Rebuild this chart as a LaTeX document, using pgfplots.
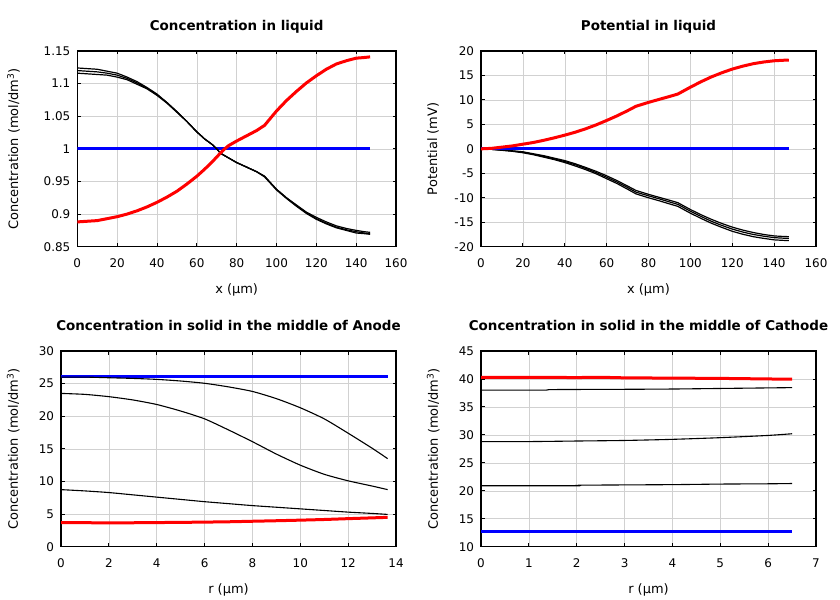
\documentclass[border=0pt]{standalone}
\usepackage{pgfplots}
\pgfplotsset{compat=1.18}
\usepackage{fontspec}
\setmainfont{DejaVu Sans}
\pgfplotsset{
  myax/.style={
    scale only axis,
    axis line style={line width=1.2bp},
    grid=major,
    major grid style={line width=0.5bp, draw=black!18},
    tick align=inside,
    major tick length=3.5bp,
    tick style={black, line width=0.9bp},
    ticklabel style={font=\fontsize{12}{14}\selectfont},
    /pgf/number format/assume math mode=true,
    xticklabel style={anchor=base, yshift=-21bp},
    yticklabel style={anchor=east, xshift=-3.5bp},
    label style={font=\fontsize{13}{15}\selectfont},
    xlabel style={at={(axis description cs:0.5,0)}, anchor=base, yshift=-46.5bp},
    title style={font=\bfseries\fontsize{13.5}{15}\selectfont, at={(axis description cs:0.5,1)}, anchor=base, yshift=14.5bp},
  },
  red line/.style={color={rgb,255:red,255;green,0;blue,0}, line width=3bp},
  blue line/.style={color={rgb,255:red,0;green,0;blue,255}, line width=3bp},
  blk/.style={black, line width=1.2bp},
  blk2/.style={black, line width=1.1bp, smooth, tension=0.4},
}
\begin{document}
\begin{tikzpicture}
\useasboundingbox (0,0) rectangle (840bp,600bp);
% ---------------- Plot 1 ----------------
\begin{axis}[myax, at={(77.3bp,353.3bp)}, anchor=south west,
  width=318.7bp, height=195.7bp,
  xmin=0, xmax=160, ymin=0.85, ymax=1.15,
  xtick={0,20,...,160}, ytick={0.85,0.9,0.95,1,1.05,1.1,1.15},
  yticklabel style={/pgf/number format/fixed, /pgf/number format/precision=2},
  title={Concentration in liquid},
  xlabel={x (µm)}, ylabel={Concentration (mol/dm\textsuperscript{3})},
  ylabel style={at={(axis description cs:-0.2,0.5)}, anchor=center}]
\addplot[blue line] coordinates {(0,1) (147,1)};
\addplot[blk] coordinates {(0,1.124) (5,1.123) (10,1.122) (15,1.119) (20,1.116) (25,1.110) (30,1.103) (35,1.094) (40,1.084) (45,1.071) (50,1.057) (55,1.042) (60,1.026) (64,1.015) (68,1.006) (70,1.000) (72,0.993) (76,0.986) (80,0.979) (85,0.972) (90,0.965) (94,0.958) (97,0.948) (100,0.938) (105,0.925) (110,0.914) (115,0.903) (120,0.895) (125,0.888) (130,0.882) (135,0.878) (140,0.875) (144,0.873) (147,0.872)};
\addplot[blk] coordinates {(0,1.120) (5,1.119) (10,1.118) (15,1.116) (20,1.113) (25,1.108) (30,1.101) (35,1.093) (40,1.083) (45,1.071) (50,1.057) (55,1.042) (60,1.026) (64,1.015) (68,1.006) (70,1.000) (72,0.993) (76,0.986) (80,0.979) (85,0.972) (90,0.965) (94,0.958) (97,0.948) (100,0.938) (105,0.925) (110,0.913) (115,0.902) (120,0.893) (125,0.886) (130,0.880) (135,0.876) (140,0.873) (144,0.871) (147,0.870)};
\addplot[blk] coordinates {(0,1.116) (5,1.115) (10,1.114) (15,1.113) (20,1.110) (25,1.106) (30,1.099) (35,1.092) (40,1.082) (45,1.070) (50,1.056) (55,1.042) (60,1.026) (64,1.015) (68,1.006) (70,1.000) (72,0.993) (76,0.986) (80,0.979) (85,0.972) (90,0.965) (94,0.957) (97,0.947) (100,0.937) (105,0.924) (110,0.912) (115,0.901) (120,0.892) (125,0.885) (130,0.879) (135,0.875) (140,0.871) (144,0.870) (147,0.869)};
\addplot[red line] coordinates {(0,0.888) (5,0.889) (10,0.890) (15,0.893) (20,0.896) (25,0.900) (30,0.905) (35,0.911) (40,0.918) (45,0.926) (50,0.935) (55,0.946) (60,0.958) (64,0.969) (68,0.981) (72,0.994) (74,1.000) (76,1.005) (80,1.012) (85,1.020) (90,1.028) (94,1.036) (97,1.047) (100,1.058) (105,1.074) (110,1.088) (115,1.101) (120,1.112) (125,1.122) (130,1.130) (135,1.135) (140,1.139) (144,1.140) (147,1.141)};
\end{axis}
% ---------------- Plot 2 ----------------
\begin{axis}[myax, at={(481bp,353.3bp)}, anchor=south west,
  width=335bp, height=195.7bp,
  xmin=0, xmax=160, ymin=-20, ymax=20,
  xtick={0,20,...,160}, ytick={-20,-15,...,20},
  title={Potential in liquid},
  xlabel={x (µm)}, ylabel={Potential (mV)},
  ylabel style={at={(axis description cs:-0.1428,0.5)}, anchor=center}]
\addplot[blk] coordinates {(0,0) (5,-0.1) (10,-0.2) (15,-0.4) (20,-0.6) (25,-1.0) (30,-1.4) (35,-1.9) (40,-2.4) (45,-3.05) (50,-3.8) (55,-4.6) (60,-5.5) (65,-6.5) (70,-7.6) (74,-8.5) (80,-9.3) (85,-9.9) (90,-10.5) (94,-11.0) (97,-11.7) (100,-12.4) (105,-13.45) (110,-14.4) (115,-15.25) (120,-16.0) (125,-16.6) (130,-17.1) (135,-17.5) (140,-17.8) (144,-17.9) (147,-17.95)};
\addplot[blk] coordinates {(0,0) (5,-0.1) (10,-0.25) (15,-0.45) (20,-0.7) (25,-1.1) (30,-1.55) (35,-2.05) (40,-2.6) (45,-3.25) (50,-4.0) (55,-4.85) (60,-5.8) (65,-6.8) (70,-7.9) (74,-8.85) (80,-9.6) (85,-10.2) (90,-10.85) (94,-11.35) (97,-12.05) (100,-12.75) (105,-13.8) (110,-14.8) (115,-15.65) (120,-16.4) (125,-17.0) (130,-17.5) (135,-17.85) (140,-18.15) (144,-18.25) (147,-18.3)};
\addplot[blk] coordinates {(0,0) (5,-0.1) (10,-0.3) (15,-0.5) (20,-0.8) (25,-1.2) (30,-1.7) (35,-2.2) (40,-2.8) (45,-3.5) (50,-4.25) (55,-5.1) (60,-6.1) (65,-7.1) (70,-8.25) (74,-9.2) (80,-10.0) (85,-10.6) (90,-11.25) (94,-11.75) (97,-12.45) (100,-13.15) (105,-14.2) (110,-15.2) (115,-16.05) (120,-16.85) (125,-17.45) (130,-17.95) (135,-18.3) (140,-18.6) (144,-18.7) (147,-18.75)};
\addplot[blue line] coordinates {(0,0) (147,0)};
\addplot[red line] coordinates {(0,0) (5,0.1) (10,0.35) (15,0.6) (20,0.95) (25,1.3) (30,1.75) (35,2.25) (40,2.8) (45,3.4) (50,4.1) (55,4.9) (60,5.8) (65,6.75) (70,7.8) (74,8.7) (80,9.5) (85,10.1) (90,10.7) (94,11.2) (97,11.9) (100,12.6) (105,13.7) (110,14.7) (115,15.55) (120,16.3) (125,16.9) (130,17.4) (135,17.75) (140,18.0) (144,18.1) (147,18.15)};
\end{axis}
% ---------------- Plot 3 ----------------
\begin{axis}[myax, at={(61bp,53.3bp)}, anchor=south west,
  width=335bp, height=195.7bp,
  xmin=0, xmax=14, ymin=0, ymax=30,
  xtick={0,2,...,14}, ytick={0,5,...,30},
  title={Concentration in solid in the middle of Anode},
  xlabel={r (µm)}, ylabel={Concentration (mol/dm\textsuperscript{3})},
  ylabel style={at={(axis description cs:-0.1424,0.5)}, anchor=center}]
\addplot[blue line] coordinates {(0,26.15) (13.65,26.15)};
\addplot[blk2] coordinates {(0,26.0) (1,26.0) (2,25.9) (3,25.8) (4,25.65) (5,25.4) (6,25.05) (7,24.5) (8,23.8) (9,22.7) (10,21.3) (11,19.6) (12,17.4) (13,15.1) (13.65,13.5)};
\addplot[blk2] coordinates {(0,23.5) (1,23.35) (2,23.0) (3,22.5) (4,21.8) (5,20.8) (6,19.6) (7,17.9) (8,16.1) (9,14.2) (10,12.5) (11,11.1) (12,10.1) (13,9.3) (13.65,8.75)};
\addplot[blk2] coordinates {(0,8.75) (1,8.55) (2,8.3) (3,7.95) (4,7.6) (5,7.25) (6,6.9) (7,6.6) (8,6.3) (9,6.05) (10,5.8) (11,5.55) (12,5.3) (13,5.1) (13.65,4.95)};
\addplot[red line, smooth, tension=0.4] coordinates {(0,3.7) (1,3.68) (2,3.65) (3,3.67) (4,3.7) (5,3.73) (6,3.77) (7,3.82) (8,3.9) (9,3.98) (10,4.07) (11,4.17) (12,4.3) (13,4.42) (13.65,4.5)};
\end{axis}
% ---------------- Plot 4 ----------------
\begin{axis}[myax, at={(481bp,53.3bp)}, anchor=south west,
  width=335bp, height=195.7bp,
  xmin=0, xmax=7, ymin=10, ymax=45,
  xtick={0,1,...,7}, ytick={10,15,...,45},
  title={Concentration in solid in the middle of Cathode},
  xlabel={r (µm)}, ylabel={Concentration (mol/dm\textsuperscript{3})},
  ylabel style={at={(axis description cs:-0.1424,0.5)}, anchor=center}]
\addplot[blue line] coordinates {(0,12.7) (6.5,12.7)};
\addplot[blk2] coordinates {(0,38.0) (1.3,38.0) (1.5,38.1) (3,38.15) (4,38.2) (5,38.3) (6,38.4) (6.5,38.45)};
\addplot[blk2] coordinates {(0,28.8) (1,28.8) (2,28.9) (3,29.0) (4,29.2) (5,29.5) (6,29.9) (6.5,30.2)};
\addplot[blk2] coordinates {(0,20.9) (2,20.9) (2.1,21.0) (4,21.1) (5,21.2) (6,21.25) (6.5,21.3)};
\addplot[red line] coordinates {(0,40.3) (1,40.3) (2,40.25) (2.5,40.3) (3,40.2) (4,40.15) (5,40.1) (6,40.0) (6.5,39.95)};
\end{axis}
\end{tikzpicture}
\end{document}
